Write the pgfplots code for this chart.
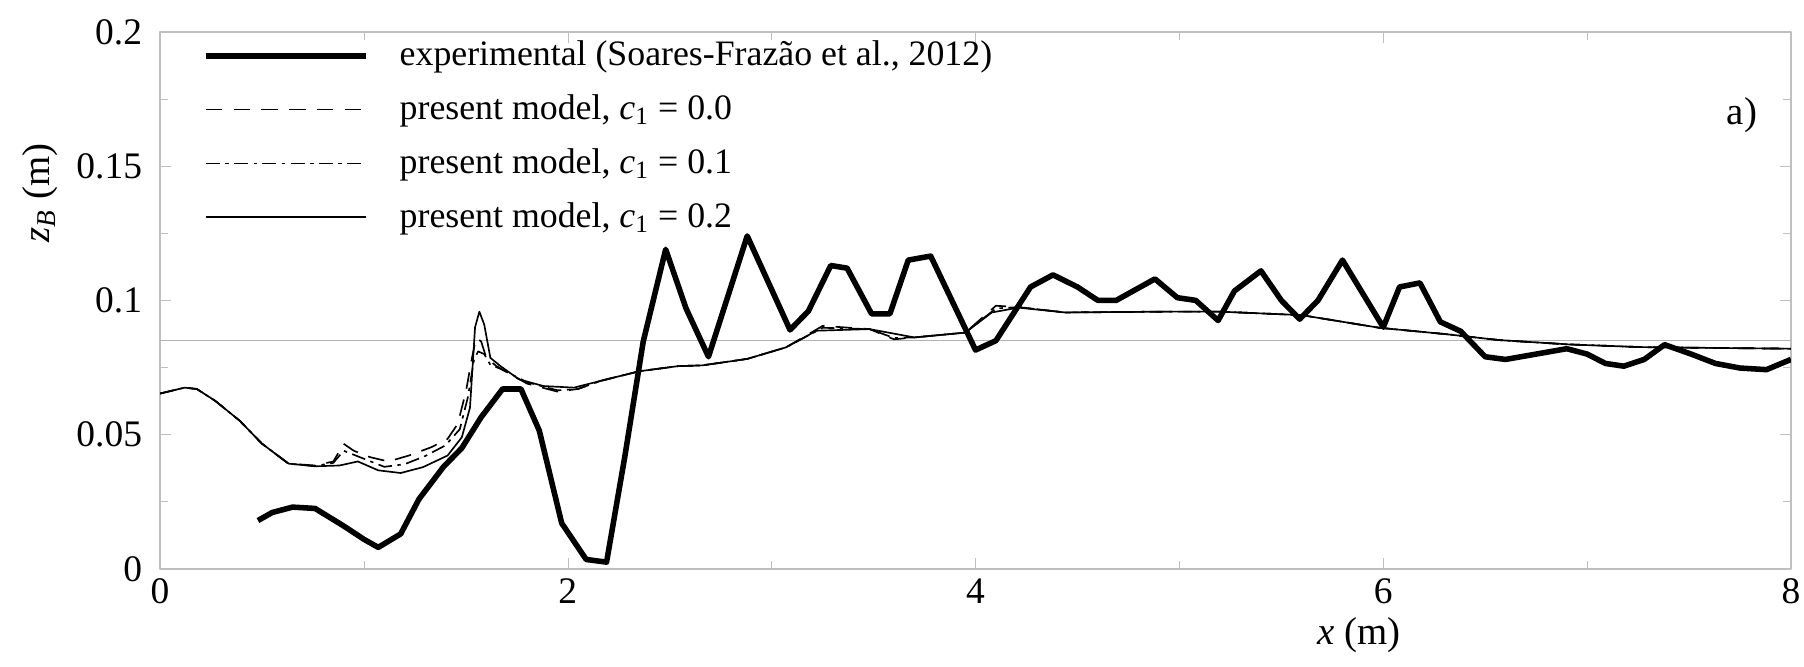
\documentclass[border=0pt]{standalone}
\usepackage{fontspec}
\setmainfont{Liberation Serif}
\usepackage{pgfplots}
\pgfplotsset{compat=1.18}
\begin{document}
\fontsize{13}{15}\selectfont
\begin{tikzpicture}
\begin{axis}[
 scale only axis, width=587.7pt, height=193.5pt,
 xmin=0, xmax=8, ymin=0, ymax=0.2,
 xtick={0,2,4,6,8}, minor xtick={1,3,5,7},
 ytick={0,0.05,0.1,0.15,0.2}, minor ytick={0.025,0.075,0.125,0.175},
 yticklabel style={/pgf/number format/fixed, /pgf/number format/precision=2, xshift=-2pt},
 xticklabel style={yshift=1pt},
 /pgf/number format/assume math mode=true,
 every tick label/.append style={font=\fontsize{13.5}{15}\selectfont},
 axis line style={gray!50, line width=0.8pt}, tick style={gray!50}, tick align=inside,
 major tick length=4pt, minor tick length=3pt,
 xlabel={\textit{x} (m)}, ylabel={\textit{z}\textsubscript{\textit{B}} (m)},
 label style={font=\fontsize{14}{16}\selectfont},
 xlabel style={at={(axis description cs:0.735,-0.123)}, anchor=center},
 ylabel style={at={(axis description cs:-0.0735,0.70)}, anchor=center},
 legend cell align=left,
 legend style={draw=none, fill=none, at={(axis description cs:0.026,0.995)}, anchor=north west,
   row sep=4.5pt, font=\fontsize{12.9}{15}\selectfont, inner sep=0pt},
 legend image code/.code={\draw[#1] (0cm,0cm) -- (2.03cm,0cm); \path (2.35cm,0cm);},
 line join=round,
]
\coordinate (sw) at (rel axis cs:0,0);
\coordinate (ne) at (rel axis cs:1,1);
\addplot[gray!60, line width=0.6pt, forget plot] coordinates {(0,0.085) (8,0.085)};
\addplot[black, line width=2pt] coordinates {
(0.48,0.018) (0.55,0.021) (0.65,0.023) (0.76,0.0225) (0.9,0.016) (1.0,0.011) (1.07,0.008)
(1.18,0.013) (1.27,0.026) (1.39,0.038) (1.48,0.045) (1.575,0.0565) (1.68,0.067) (1.77,0.067)
(1.86,0.0515) (1.97,0.017) (2.09,0.0035) (2.19,0.0025) (2.28,0.042) (2.37,0.0847) (2.48,0.119)
(2.58,0.097) (2.69,0.079) (2.88,0.124) (3.09,0.089) (3.18,0.096) (3.29,0.113) (3.37,0.112)
(3.49,0.095) (3.58,0.095) (3.67,0.115) (3.78,0.1165) (4.0,0.0815) (4.1,0.085) (4.27,0.105)
(4.38,0.1095) (4.5,0.105) (4.6,0.1) (4.69,0.1) (4.88,0.108) (4.99,0.101) (5.08,0.1)
(5.19,0.0925) (5.27,0.1035) (5.4,0.111) (5.5,0.1) (5.59,0.093) (5.68,0.1) (5.8,0.115)
(6.0,0.09) (6.08,0.105) (6.18,0.1065) (6.28,0.092) (6.38,0.0885) (6.5,0.079) (6.6,0.078)
(6.75,0.080) (6.9,0.082) (7.0,0.080) (7.09,0.0765) (7.18,0.0755) (7.28,0.078) (7.38,0.0835)
(7.51,0.080) (7.63,0.0765) (7.75,0.0748) (7.88,0.0742) (8.0,0.078)};
\addlegendentry{experimental (Soares-Frazão et al., 2012)}
\addplot[black, line width=0.6pt, dash pattern=on 6pt off 4pt] coordinates {
(0,0.0653) (0.12,0.0675) (0.18,0.067) (0.27,0.0626) (0.39,0.0552) (0.5,0.0466) (0.63,0.0392)
(0.76,0.0385) (0.85,0.040) (0.9,0.0466) (0.95,0.044) (1.03,0.0416) (1.12,0.040) (1.22,0.0422)
(1.33,0.0453) (1.41,0.0484) (1.46,0.054) (1.5,0.066) (1.53,0.0786) (1.55,0.086) (1.575,0.0847)
(1.6,0.0786) (1.65,0.0755) (1.8,0.069) (1.95,0.066) (2.05,0.067) (2.16,0.070) (2.35,0.0736)
(2.54,0.0755) (2.66,0.0758) (2.88,0.0782) (3.07,0.0825) (3.25,0.0905) (3.48,0.0893)
(3.6,0.0855) (3.7,0.0862) (3.95,0.088) (4.1,0.098) (4.21,0.0975) (4.44,0.0955) (4.92,0.0958)
(5.2,0.0958) (5.6,0.0945) (5.98,0.0898) (6.31,0.0874) (6.57,0.0852) (6.91,0.0836)
(7.26,0.0826) (7.61,0.0823) (8.0,0.082)};
\addlegendentry{present model, \textit{c}\textsubscript{1} = 0.0}
\addplot[black, line width=0.6pt, dash pattern=on 5pt off 2pt on 1.2pt off 2pt] coordinates {
(0,0.0653) (0.12,0.0675) (0.18,0.067) (0.27,0.0626) (0.39,0.0552) (0.5,0.0466) (0.63,0.0392)
(0.76,0.0383) (0.85,0.0395) (0.9,0.044) (1.0,0.041) (1.1,0.038) (1.2,0.039) (1.3,0.042)
(1.4,0.046) (1.47,0.052) (1.51,0.064) (1.54,0.078) (1.56,0.081) (1.59,0.080) (1.62,0.076)
(1.67,0.0745) (1.8,0.0695) (1.95,0.0665) (2.05,0.067) (2.16,0.070) (2.35,0.0736) (2.54,0.0755)
(2.66,0.0758) (2.88,0.0782) (3.07,0.0825) (3.25,0.0898) (3.48,0.0893) (3.6,0.086) (3.7,0.0862)
(3.95,0.088) (4.1,0.097) (4.21,0.0975) (4.44,0.0955) (4.92,0.0958) (5.2,0.0958) (5.6,0.0945)
(5.98,0.0898) (6.31,0.0874) (6.57,0.0852) (6.91,0.0836) (7.26,0.0826) (7.61,0.0823) (8.0,0.082)};
\addlegendentry{present model, \textit{c}\textsubscript{1} = 0.1}
\addplot[black, line width=0.6pt] coordinates {
(0,0.0653) (0.12,0.0675) (0.18,0.067) (0.27,0.0626) (0.39,0.0552) (0.5,0.0466) (0.63,0.0392)
(0.76,0.0382) (0.88,0.0385) (0.97,0.040) (1.07,0.0367) (1.18,0.0357) (1.29,0.0379)
(1.41,0.0422) (1.48,0.049) (1.52,0.060) (1.545,0.090) (1.566,0.0958) (1.59,0.091) (1.62,0.0786)
(1.67,0.0755) (1.76,0.0706) (1.88,0.0681) (2.03,0.0675) (2.16,0.070) (2.35,0.0736)
(2.54,0.0755) (2.66,0.0758) (2.88,0.0782) (3.07,0.0825) (3.22,0.0887) (3.48,0.0893)
(3.70,0.0862) (3.95,0.088) (4.08,0.0955) (4.21,0.0973) (4.44,0.0955) (4.92,0.0958)
(5.2,0.0958) (5.6,0.0945) (5.98,0.0898) (6.31,0.0874) (6.57,0.0852) (6.91,0.0836)
(7.26,0.0826) (7.61,0.0823) (8.0,0.082)};
\addlegendentry{present model, \textit{c}\textsubscript{1} = 0.2}
\node[font=\fontsize{14}{16}\selectfont] at (axis description cs:0.97,0.845) {a)};
\end{axis}
\pgfresetboundingbox
\path ([shift={(-57.7pt,-35.3pt)}]sw) rectangle ([shift={(4.7pt,11.5pt)}]ne);
\end{tikzpicture}
\end{document}
